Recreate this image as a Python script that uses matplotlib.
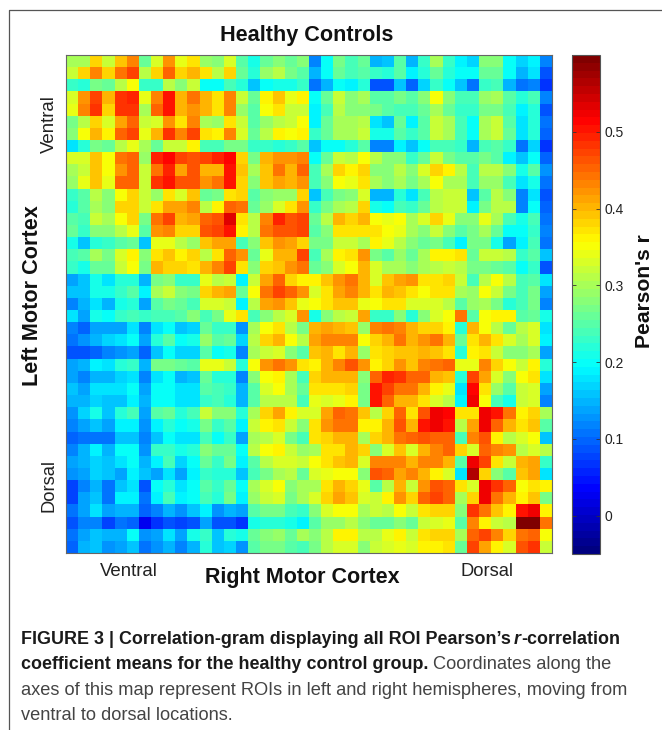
import numpy as np
import matplotlib
matplotlib.use('Agg')
import matplotlib.pyplot as plt
from matplotlib.colors import LinearSegmentedColormap

plt.rcParams['font.family'] = ['Liberation Sans', 'DejaVu Sans']

# Pearson r means x 100, read off the map by colour
# rows 0-20, columns 0-19
top_left = [
    [30,30,38,32,39,43,26,33,42,34,37,29,28,33,25,21,26,28,26,28],
    [32,38,43,38,44,47,31,38,45,38,40,37,31,38,26,22,29,31,27,25],
    [23,22,27,26,31,35,23,23,31,28,32,20,20,24,22,16,20,21,21,23],
    [33,42,47,40,48,49,34,43,50,40,44,40,37,43,32,26,36,39,34,36],
    [34,43,48,38,48,48,30,45,50,40,42,40,37,43,29,25,35,37,32,32],
    [27,31,38,33,41,45,32,33,42,37,43,30,29,37,32,25,29,31,32,35],
    [28,35,40,36,45,47,34,40,48,43,47,37,36,43,33,26,31,36,35,36],
    [18,22,27,26,31,34,30,26,32,32,36,24,24,27,27,23,23,22,23,25],
    [33,33,39,35,44,45,29,49,51,47,46,47,49,51,38,27,40,42,42,43],
    [30,32,39,35,42,45,32,44,49,41,46,40,40,50,39,30,39,44,40,45],
    [29,34,39,34,45,45,32,48,50,46,46,42,44,50,38,28,39,41,40,42],
    [23,25,31,28,35,38,32,29,37,33,39,26,27,37,38,25,28,29,29,38],
    [22,25,30,28,38,38,32,37,41,41,43,31,36,45,44,26,29,33,37,42],
    [25,24,32,30,35,38,27,44,47,40,41,45,46,53,37,31,43,49,46,47],
    [26,23,28,28,31,34,25,42,43,38,38,46,47,50,36,31,44,46,46,47],
    [21,16,22,23,25,26,16,34,34,31,29,39,41,41,24,28,39,42,41,38],
    [24,25,30,27,33,36,28,37,39,36,38,31,37,45,42,26,34,40,40,47],
    [23,21,26,26,32,35,27,40,38,38,37,40,43,47,37,28,38,39,42,44],
    [14,16,21,18,22,22,15,27,28,23,23,34,31,32,19,32,41,45,38,36],
    [16,16,21,21,23,25,19,30,32,28,27,38,40,41,26,35,44,47,45,42],
    [12,15,18,15,21,22,14,25,27,26,24,33,33,32,19,31,41,42,39,34],
]
# rows 0-20, columns 20-39
top_right = [
    [12,20,27,24,26,15,16,25,15,23,30,23,19,17,28,28,20,17,19,12],
    [15,20,26,24,25,23,22,25,19,22,26,22,20,20,26,26,20,15,18,9],
    [11,15,20,19,22,9,9,16,10,17,23,20,16,11,23,24,15,11,12,7],
    [20,26,32,28,30,25,25,27,25,28,35,28,24,24,29,30,25,22,24,12],
    [19,24,31,28,28,27,25,24,24,26,30,26,23,23,27,27,24,19,22,9],
    [19,26,30,30,31,18,16,26,19,25,32,30,24,20,30,32,25,18,22,11],
    [23,26,30,30,32,21,21,25,23,25,32,30,24,20,30,32,26,18,22,10],
    [16,20,20,22,25,12,12,19,16,20,24,24,23,15,24,25,23,11,17,7],
    [20,26,32,31,35,31,28,28,23,26,32,27,25,25,27,25,19,16,20,10],
    [24,30,38,36,38,28,28,31,28,33,38,36,31,24,31,31,28,21,25,13],
    [24,28,35,34,37,30,28,30,27,30,35,30,30,24,29,29,24,18,21,11],
    [16,24,27,28,33,15,15,22,18,24,31,32,32,16,25,31,28,12,18,9],
    [23,27,30,31,38,21,20,24,23,26,31,32,32,19,27,31,31,12,20,10],
    [26,31,40,38,40,35,34,35,30,33,38,34,28,28,34,30,24,21,24,11],
    [25,28,37,37,37,37,35,34,30,28,32,28,25,27,30,26,20,20,23,12],
    [27,27,32,32,30,36,34,31,28,26,27,24,19,27,27,21,14,19,24,11],
    [24,30,36,37,42,27,25,29,26,30,36,36,37,26,32,32,31,23,25,16],
    [26,28,33,35,40,33,30,30,28,30,31,32,31,27,27,26,25,20,23,9],
    [36,39,42,44,40,33,39,41,42,37,37,38,32,24,31,35,31,24,25,18],
    [33,37,41,43,40,37,40,39,37,35,37,37,30,29,35,32,27,24,27,14],
    [35,37,39,39,34,35,37,37,33,33,33,31,25,29,30,27,22,24,27,12],
]
# rows 21-40, columns 0-19
bottom_left = [
    [18,14,21,20,23,24,23,24,24,25,28,24,27,34,37,24,28,31,33,42],
    [12,10,14,14,14,18,12,18,20,16,17,26,23,23,13,30,35,37,31,27],
    [11,13,15,17,18,20,14,22,25,20,21,29,25,26,17,31,38,40,35,31],
    [9,9,10,12,13,14,10,16,20,17,17,25,20,21,12,30,32,33,28,25],
    [14,15,19,18,22,23,15,27,27,26,25,34,34,32,22,35,42,44,42,37],
    [14,12,15,15,17,18,12,18,20,15,16,26,22,22,12,28,35,36,30,24],
    [16,14,18,18,18,20,14,20,20,18,18,25,24,23,15,25,33,35,30,26],
    [15,15,17,16,16,19,15,20,20,18,18,23,24,22,15,25,31,31,31,24],
    [13,17,21,16,22,24,14,25,26,22,24,32,28,28,22,30,38,41,36,33],
    [12,14,16,14,19,19,13,19,22,20,21,27,23,25,19,32,36,37,32,28],
    [10,11,11,11,16,16,12,16,20,18,18,24,20,23,14,30,31,33,27,24],
    [12,15,19,15,20,20,13,23,23,21,22,28,26,26,20,31,35,36,32,29],
    [14,15,17,16,18,20,15,19,24,17,20,26,23,27,19,25,31,33,33,32],
    [13,14,17,16,14,19,16,14,18,14,19,23,22,22,16,24,27,30,31,26],
    [8,12,15,11,16,18,9,20,22,18,20,25,23,26,20,30,33,35,28,30],
    [8,14,16,11,19,19,11,19,24,19,20,24,22,27,19,29,32,33,27,30],
    [11,14,18,14,15,15,10,12,15,13,16,19,13,15,14,25,27,27,24,23],
    [9,12,12,8,11,10,3,7,9,8,9,14,9,9,7,21,22,22,21,19],
    [11,14,16,15,15,20,13,14,18,14,21,23,16,22,21,26,28,29,26,30],
    [10,15,16,13,14,16,11,13,15,12,15,22,16,17,13,25,27,27,25,24],
]
# rows 21-40, columns 20-39
bottom_right = [
    [21,28,31,32,41,23,23,28,22,28,33,35,44,25,35,36,36,25,26,21],
    [40,41,40,39,29,43,44,43,40,38,38,36,22,40,35,31,26,31,33,18],
    [41,43,43,43,35,38,40,44,40,42,44,40,26,37,40,37,33,30,33,19],
    [39,40,37,40,29,37,38,39,39,40,39,37,22,36,37,32,28,28,30,14],
    [36,40,43,46,42,36,38,42,39,43,44,45,34,34,43,38,35,32,36,22],
    [38,40,40,40,28,45,49,48,45,45,40,39,22,47,41,33,28,35,37,18],
    [37,37,37,38,27,50,47,44,44,40,36,34,18,51,37,29,25,32,33,14],
    [34,33,34,36,27,50,45,40,40,37,33,31,19,52,35,24,21,32,33,12],
    [33,41,45,44,39,31,38,45,37,46,52,51,37,37,52,50,44,36,38,30],
    [37,42,44,44,36,36,40,46,40,50,52,50,31,41,52,45,40,37,39,25],
    [37,38,40,40,30,38,40,44,45,46,45,45,24,43,46,36,31,33,35,16],
    [30,37,37,40,38,28,33,39,33,40,43,45,38,33,45,43,42,31,33,31],
    [35,37,39,40,33,43,43,43,40,43,43,40,25,52,47,37,32,40,41,23],
    [33,34,35,35,28,46,45,41,43,40,36,33,18,56,38,28,25,39,41,18],
    [30,37,40,38,34,25,31,40,32,42,46,45,37,33,52,48,45,35,37,36],
    [33,38,41,39,33,32,36,42,38,45,47,45,30,38,52,44,40,36,39,27],
    [28,33,35,35,30,32,31,35,32,37,38,38,28,48,44,39,36,50,52,36],
    [25,29,29,31,28,26,26,28,26,32,33,34,25,43,36,32,31,60,60,44],
    [28,31,36,36,31,31,34,36,32,37,38,38,30,45,47,43,38,44,45,35],
    [27,31,33,33,28,32,33,34,33,36,36,37,26,47,41,36,33,46,48,32],
]

title = 'Healthy Controls'
xlabel = 'Right Motor Cortex'
ylabel = 'Left Motor Cortex'
cbar_label = "Pearson's r"
cbar_ticks = [0, 0.1, 0.2, 0.3, 0.4, 0.5]
cbar_ticklabels = ['0', '0.1', '0.2', '0.3', '0.4', '0.5']

W, H = 662, 730


def px_axes(fig, x0, y0, x1, y1):
    """ Axes from pixel box, y measured from the top """
    return fig.add_axes([x0 / W, 1 - y1 / H, (x1 - x0) / W, (y1 - y0) / H])


def put(fig, x, y, s, **kw):
    return fig.text(x / W, 1 - y / H, s, **kw)


def caption_line(fig, x, y, parts):
    # parts are (text, size, weight, style, colour, gap), each starts where the last ended
    renderer = fig.canvas.get_renderer()
    for s, size, weight, style, color, gap in parts:
        t = put(fig, x, y, s, fontsize=size, fontweight=weight, fontstyle=style,
                color=color, va='baseline', ha='left')
        x = t.get_window_extent(renderer).x1 + gap


r = np.block([[np.array(top_left), np.array(top_right)],
              [np.array(bottom_left), np.array(bottom_right)]]) / 100.0

# MATLAB flavour of jet, 64 steps like the original colour bar
matlab_jet = LinearSegmentedColormap.from_list(
    'matlab_jet',
    [(0, (0, 0, 0.5)), (0.125, (0, 0, 1)), (0.375, (0, 1, 1)),
     (0.625, (1, 1, 0)), (0.875, (1, 0, 0)), (1, (0.5, 0, 0))], N=64)

fig = plt.figure(figsize=(W / 100, H / 100), dpi=100)

ax = px_axes(fig, 66, 55, 552, 553)
im = ax.imshow(r, cmap=matlab_jet, vmin=-0.05, vmax=0.6,
               aspect='auto', interpolation='nearest')
ax.set_xticks([])
ax.set_yticks([])
for s in ax.spines.values():
    s.set_color('#666666')
    s.set_linewidth(0.8)

cax = px_axes(fig, 572, 55, 600, 554)
cb = fig.colorbar(im, cax=cax)
cb.set_ticks(cbar_ticks)
cb.set_ticklabels(cbar_ticklabels)
cb.ax.tick_params(direction='in', left=True, right=True, length=3, width=0.6,
                  color='#333333', labelsize=10, labelcolor='#222222', pad=3)
cb.outline.set_edgecolor('#555555')
cb.outline.set_linewidth(0.8)

put(fig, 307, 35, title, fontsize=15.6, fontweight='bold', ha='center', va='center', color='#111111')
put(fig, 302, 578, xlabel, fontsize=15.5, fontweight='bold', ha='center', va='center', color='#111111')
put(fig, 33, 296, ylabel, fontsize=15.6, fontweight='bold', rotation=90, ha='center', va='center', color='#111111')
put(fig, 645, 291, cbar_label, fontsize=15.2, fontweight='bold', rotation=90, ha='center', va='center', color='#111111')

put(fig, 129, 571, 'Ventral', fontsize=13.4, ha='center', va='center', color='#222222')
put(fig, 487, 571, 'Dorsal', fontsize=13.2, ha='center', va='center', color='#222222')
put(fig, 49, 124, 'Ventral', fontsize=13.4, rotation=90, ha='center', va='center', color='#222222')
put(fig, 49, 486, 'Dorsal', fontsize=13.2, rotation=90, ha='center', va='center', color='#222222')

dark = '#1a1a1a'
grey = '#444444'
caption_line(fig, 21, 644, [('FIGURE 3 | Correlation-gram displaying all ROI Pearson\u2019s', 12.9, 'bold', 'normal', dark, 3),
                            ('r', 12.9, 'bold', 'italic', dark, 0),
                            ('-correlation', 12.9, 'bold', 'normal', dark, 0)])
caption_line(fig, 21, 669, [('coefficient means for the healthy control group.', 12.9, 'bold', 'normal', dark, 5),
                            ('Coordinates along the', 13.15, 'normal', 'normal', grey, 0)])
caption_line(fig, 21, 695, [('axes of this map represent ROIs in left and right hemispheres, moving from', 13.15, 'normal', 'normal', grey, 0)])
caption_line(fig, 21, 720, [('ventral to dorsal locations.', 13.15, 'normal', 'normal', grey, 0)])

# page frame, top and left edges
fig.add_artist(plt.Line2D([9 / W, 9 / W, 1], [0, 1 - 10 / H, 1 - 10 / H], color='#555555', lw=0.9))

fig.savefig('out.png', dpi=100)
